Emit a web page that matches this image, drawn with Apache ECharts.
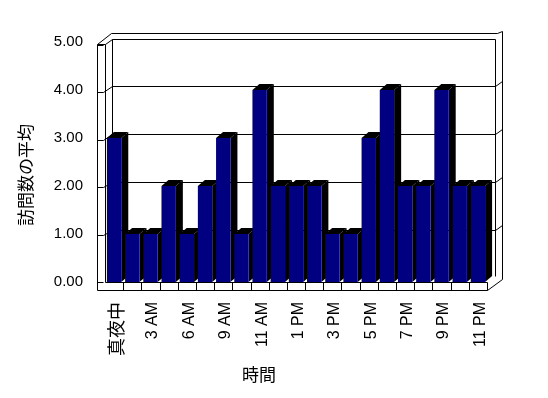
<!DOCTYPE html>
<html>
<head>
<meta charset="utf-8">
<script src="https://cdn.jsdelivr.net/npm/echarts@6/dist/echarts.min.js"></script>
<style>
  html, body { margin: 0; padding: 0; background: #fff; }
  #main { width: 548px; height: 398px; }
</style>
</head>
<body>
<div id="main"></div>
<script>
// 時間帯ごとの訪問数の平均
const categories = ['真夜中', '1 AM', '3 AM', '5 AM', '6 AM', '8 AM', '9 AM', '10 AM', '11 AM', '12 PM', '1 PM',
  '2 PM', '3 PM', '4 PM', '5 PM', '6 PM', '7 PM', '8 PM', '9 PM', '10 PM', '11 PM']
const visits = [3, 1, 1, 2, 1, 2, 3, 1, 4, 2, 2, 2, 1, 1, 3, 4, 2, 2, 4, 2, 2]
const yTicks = [0, 1, 2, 3, 4, 5]

const chart = echarts.init(document.getElementById('main'))

const DX = 7, DY = -6
const px = (v) => Math.round(v) + 0.5

function line(x1, y1, x2, y2) {
  return {
    type: 'line',
    shape: { x1: px(x1), y1: px(y1), x2: px(x2), y2: px(y2) },
    style: { stroke: '#000', lineWidth: 1 },
  }
}

// 壁・床・目盛線
function renderFrame(params, api) {
  const cs = params.coordSys
  const L = cs.x, R = cs.x + cs.width, T = cs.y, B = cs.y + cs.height
  const band = cs.width / categories.length
  const c = []
  c.push({ type: 'polygon', shape: { points: [[L - 8, T + 2], [L + 6, T - 9], [R + 10, T - 9], [R + 15, T - 11], [R + 15, B - 3], [R, B + 8], [L - 8, B + 8]] }, style: { fill: '#fff' } })
  // left wall
  c.push(line(L - 8, T + 2, L - 8, B + 8))
  c.push(line(L, T + 2, L, B))
  c.push(line(L - 8, T + 2, L, T + 2))
  c.push(line(L - 8, T + 2, L + 6, T - 9))
  c.push(line(L, T + 2, L + 7, T - 3))
  // back wall
  c.push(line(L + 7, T - 3, L + 7, B - 6))
  c.push(line(L + 7, T - 3, R + 8, T - 3))
  c.push(line(L + 6, T - 9, R + 10, T - 9))
  c.push(line(R + 10, T - 9, R + 15, T - 11))
  c.push(line(R + 8, T - 3, R + 8, B - 6))
  c.push(line(R + 15, T - 11, R + 15, B - 3))
  // floor
  c.push(line(L - 8, B + 8, R, B + 8))
  c.push(line(L, B, R, B))
  c.push(line(R, B, R, B + 8))
  c.push(line(R, B + 8, R + 15, B - 3))
  for (let k = 1; k < categories.length; k++) {
    c.push(line(L + k * band, B, L + k * band, B + 8))
  }
  // gridlines
  yTicks.forEach((v) => {
    const y = api.coord([0, v])[1]
    const yF = y + 0.5 * v
    c.push(line(L - 8, yF, L - 2, yF))
    if (v > 0 && v < 5) {
      c.push(line(L - 2, yF, L + 7, y - 4))
      c.push(line(L + 7, y - 4, R + 8, y - 4))
      c.push(line(R + 8, y - 4, R + 15, y - 9))
    }
  })
  return { type: 'group', children: c }
}

function renderBar(params, api) {
  const i = api.value(0), v = api.value(1)
  const base = api.coord([i, 0])
  const top = api.coord([i, v])
  const w = api.size([1, 0])[0] * 0.79
  const x0 = base[0] - w / 2, x1 = x0 + w, yb = base[1], yt = top[1]
  return {
    type: 'group',
    children: [
      { type: 'polygon', shape: { points: [[x1, yt], [x1 + DX, yt + DY], [x1 + DX, yb + DY], [x1, yb]] }, style: { fill: '#000' } },
      { type: 'polygon', shape: { points: [[x0, yt], [x0 + DX, yt + DY], [x1 + DX, yt + DY], [x1, yt]] }, style: { fill: '#000' } },
      { type: 'rect', shape: { x: x0, y: yt, width: w, height: yb - yt }, style: { fill: '#000080' } },
    ],
  }
}

chart.setOption({
  backgroundColor: '#fff',
  animation: false,
  grid: { left: 105, right: 61, top: 42, bottom: 116 },
  xAxis: {
    type: 'category',
    data: categories,
    axisLine: { show: false },
    axisTick: { show: false },
    axisLabel: {
      interval: 1,
      rotate: 90,
      margin: 20,
      color: '#000',
      fontSize: 16,
      fontFamily: 'Liberation Sans',
      padding: [5, 0, 0, 0],
      formatter: (s) => (/AM|PM/.test(s) ? s : '{j|' + s + '}'),
      rich: { j: { fontSize: 18, fontFamily: 'Noto Sans CJK JP', color: '#000' } },
    },
  },
  yAxis: {
    type: 'value',
    min: 0,
    max: 5,
    interval: 1,
    axisLine: { show: false },
    axisTick: { show: false },
    splitLine: { show: false },
    axisLabel: {
      margin: 22,
      color: '#000',
      fontSize: 15,
      fontFamily: 'Liberation Sans',
      formatter: (v) => v.toFixed(2),
    },
  },
  graphic: [
    {
      type: 'text', x: 26, y: 175, rotation: Math.PI / 2,
      style: { text: '訪問数の平均', font: '17px "Noto Sans CJK JP"', fill: '#000', align: 'center', verticalAlign: 'middle' },
    },
    {
      type: 'text', x: 259, y: 375,
      style: { text: '時間', font: '17px "Noto Sans CJK JP"', fill: '#000', align: 'center', verticalAlign: 'middle' },
    },
  ],
  series: [
    { type: 'custom', renderItem: renderFrame, data: [[0, 0]], silent: true, z: 1 },
    { type: 'custom', renderItem: renderBar, data: visits.map((v, i) => [i, v]), z: 2 },
  ],
})
</script>
</body>
</html>
